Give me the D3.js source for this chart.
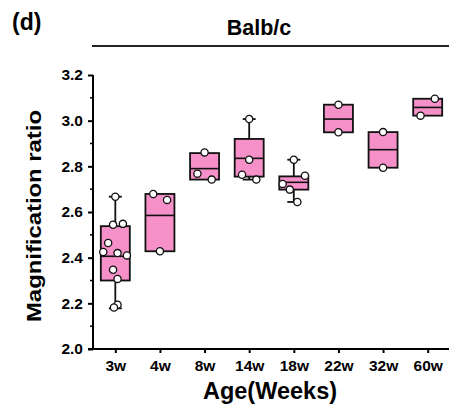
<!doctype html>
<html><head><meta charset="utf-8"/>
<title>Balb/c magnification ratio</title>
<style>
  html, body { margin:0; padding:0; background:#fff; }
  svg { display:block; }
  text { font-family:"Liberation Sans", Arial, sans-serif; font-weight:bold; fill:#000; }
</style>
</head><body>
<svg id="chart" width="449" height="408"></svg>
<script src="https://cdn.jsdelivr.net/npm/d3@7"></script>
<script>
// Box stats, one entry per age group.
const categories = ["3w", "4w", "8w", "14w", "18w", "22w", "32w", "60w"];
const q1          = [2.300, 2.428, 2.742, 2.755, 2.698, 2.949, 2.794, 3.022];
const median      = [2.406, 2.585, 2.790, 2.835, 2.730, 3.007, 2.873, 3.058];
const q3          = [2.538, 2.679, 2.858, 2.920, 2.756, 3.070, 2.950, 3.096];
const whiskerLow  = [2.178, 2.428, 2.742, 2.742, 2.644, 2.949, 2.794, 3.022];
const whiskerHigh = [2.667, 2.679, 2.858, 3.007, 2.829, 3.070, 2.950, 3.096];

// Individual animals (values) and their horizontal jitter (fraction of a category step).
const pointValues = [
  [2.667, 2.544, 2.548, 2.464, 2.425, 2.420, 2.410, 2.347, 2.307, 2.194, 2.182],
  [2.679, 2.653, 2.428],
  [2.861, 2.768, 2.742],
  [3.007, 2.829, 2.763, 2.742],
  [2.829, 2.759, 2.723, 2.698, 2.644],
  [3.070, 2.949],
  [2.950, 2.794],
  [3.096, 3.022],
];
const pointJitter = [
  [0, -0.05, 0.17, -0.16, -0.27, 0.05, 0.26, -0.05, 0.05, 0.05, -0.03],
  [-0.15, 0.16, 0],
  [0, -0.16, 0.16],
  [0, 0, -0.16, 0.16],
  [0, 0.25, -0.25, -0.09, 0.08],
  [0, 0],
  [0, 0],
  [0.16, -0.16],
];

const yTicks = [2.0, 2.2, 2.4, 2.6, 2.8, 3.0, 3.2];
const yMinor = [2.1, 2.3, 2.5, 2.7, 2.9, 3.1];

const svg = d3.select("#chart");
const plotLeft = 93, plotRight = 450, plotTop = 75, plotBottom = 349;

const x = d3.scalePoint().domain(categories).range([plotLeft, plotRight]).padding(0.5);
const y = d3.scaleLinear().domain([2.0, 3.2]).range([plotBottom, plotTop]);
const step = x.step();
const boxW = 29;

// panel letter + strain header
svg.append("text").attr("x", 12).attr("y", 30).attr("font-size", 23).text("(d)");
svg.append("text").attr("x", 259).attr("y", 35).attr("font-size", 21.5)
  .attr("text-anchor", "middle").text("Balb/c");
svg.append("line").attr("x1", 92).attr("x2", 449).attr("y1", 46).attr("y2", 46)
  .attr("stroke", "#222").attr("stroke-width", 2);

// axes
const yAxis = svg.append("g").attr("transform", `translate(${plotLeft},0)`)
  .call(d3.axisLeft(y).tickValues(yTicks).tickFormat(d3.format(".1f")).tickSize(5).tickPadding(4));
const xAxis = svg.append("g").attr("transform", `translate(0,${plotBottom})`)
  .call(d3.axisBottom(x).tickSize(4).tickPadding(7).tickSizeOuter(0));
for (const ax of [xAxis, yAxis]) {
  ax.select(".domain").attr("stroke", "#000").attr("stroke-width", 2);
  ax.selectAll(".tick line").attr("stroke", "#000").attr("stroke-width", 2);
  ax.selectAll(".tick text").attr("font-size", 15.5).attr("fill", "#000")
    .attr("font-family", '"Liberation Sans", Arial, sans-serif').attr("font-weight", "bold");
}
xAxis.select(".domain").attr("d", `M${plotLeft - 5},0H${plotRight}`);
yAxis.select(".domain").attr("d", `M0,${plotTop}V${plotBottom}`);
yAxis.selectAll(".tick text").attr("x", -10);
svg.append("g").selectAll("line").data(yMinor).join("line")
  .attr("x1", plotLeft - 3).attr("x2", plotLeft).attr("y1", d => y(d)).attr("y2", d => y(d))
  .attr("stroke", "#000").attr("stroke-width", 1.5);

// axis titles
svg.append("text").attr("font-size", 19.5)
  .attr("transform", "translate(41,216) rotate(-90)")
  .attr("text-anchor", "middle")
  .attr("textLength", 212).attr("lengthAdjust", "spacingAndGlyphs")
  .text("Magnification ratio");
svg.append("text").attr("x", 270).attr("y", 399).attr("font-size", 23.5)
  .attr("text-anchor", "middle").text("Age(Weeks)");

// boxes
const groups = svg.append("g").selectAll("g").data(categories).join("g")
  .attr("transform", d => `translate(${x(d)},0)`);

groups.each(function (cat, i) {
  const g = d3.select(this);
  const capW = 13;
  if (whiskerHigh[i] > q3[i] + 0.001) {
    g.append("line").attr("x1", 0).attr("x2", 0).attr("y1", y(q3[i])).attr("y2", y(whiskerHigh[i]))
      .attr("stroke", "#111").attr("stroke-width", 1.8);
    g.append("line").attr("x1", -capW / 2).attr("x2", capW / 2)
      .attr("y1", y(whiskerHigh[i])).attr("y2", y(whiskerHigh[i]))
      .attr("stroke", "#111").attr("stroke-width", 1.8);
  }
  if (whiskerLow[i] < q1[i] - 0.001) {
    g.append("line").attr("x1", 0).attr("x2", 0).attr("y1", y(q1[i])).attr("y2", y(whiskerLow[i]))
      .attr("stroke", "#111").attr("stroke-width", 1.8);
    g.append("line").attr("x1", -capW / 2).attr("x2", capW / 2)
      .attr("y1", y(whiskerLow[i])).attr("y2", y(whiskerLow[i]))
      .attr("stroke", "#111").attr("stroke-width", 1.8);
  }
  g.append("rect").attr("x", -boxW / 2).attr("width", boxW)
    .attr("y", y(q3[i])).attr("height", y(q1[i]) - y(q3[i]))
    .attr("fill", "#f590c8").attr("stroke", "#111").attr("stroke-width", 1.8);
  g.append("line").attr("x1", -boxW / 2).attr("x2", boxW / 2)
    .attr("y1", y(median[i])).attr("y2", y(median[i]))
    .attr("stroke", "#111").attr("stroke-width", 1.6);
  g.selectAll("circle").data(pointValues[i]).join("circle")
    .attr("cx", (d, j) => pointJitter[i][j] * step)
    .attr("cy", d => y(d))
    .attr("r", 3.6)
    .attr("fill", "#fff").attr("stroke", "#111").attr("stroke-width", 1.3);
});
</script>
</body></html>
